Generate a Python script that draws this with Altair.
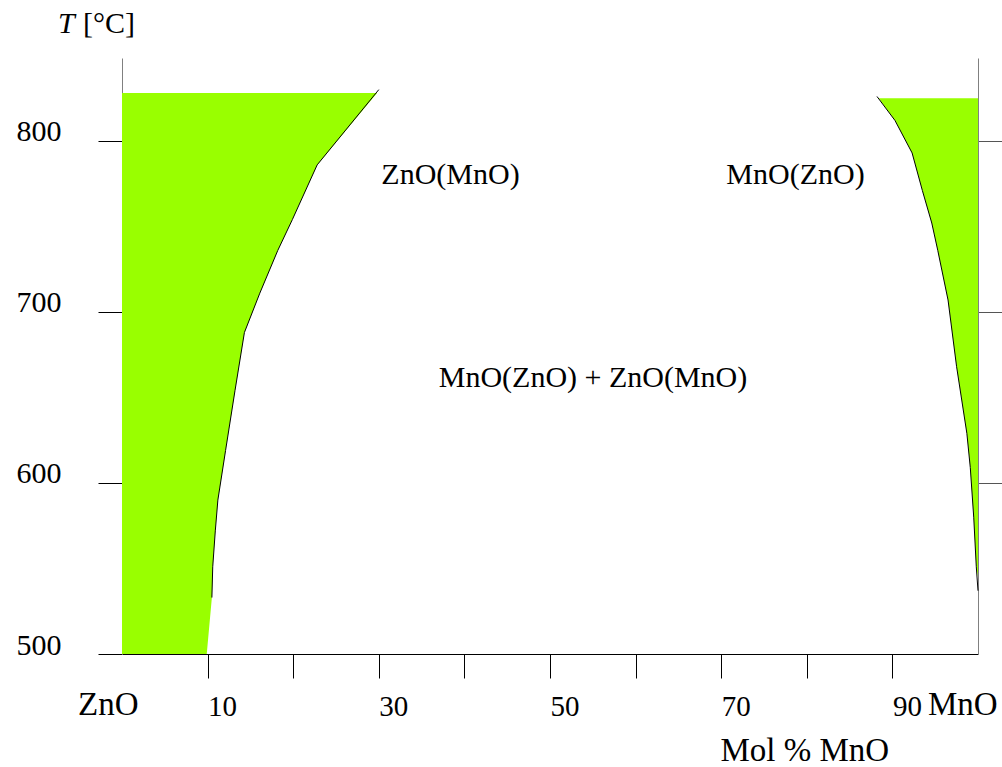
import altair as alt
import pandas as pd

FONT = "Liberation Serif"
FS = 30
GREEN = "#99ff00"

# ZnO-rich solid solution boundary (mol % MnO vs temperature)
zno_line_T = [533, 551, 572, 590, 619, 654, 688, 711, 736, 754, 786, 830]
zno_line_x = [10.5, 10.6, 10.9, 11.2, 12.1, 13.2, 14.3, 16.1, 18.2, 19.9, 22.8, 30.0]
zno_fill_T = [500, 533, 551, 572, 590, 619, 654, 688, 711, 736, 754, 786, 828]
zno_fill_x = [9.9, 10.5, 10.6, 10.9, 11.2, 12.1, 13.2, 14.3, 16.1, 18.2, 19.9, 22.8, 29.8]

# MnO-rich solid solution boundary
mno_line_T = [826, 812, 793, 771, 752, 736, 707, 668, 629, 609, 580, 551, 537]
mno_line_x = [88.2, 90.3, 92.3, 93.5, 94.6, 95.3, 96.5, 97.5, 98.7, 99.1, 99.5, 99.8, 100.0]
mno_fill_T = [825, 812, 793, 771, 752, 736, 707, 668, 629, 609, 580, 551, 545]
mno_fill_x = [88.4, 90.3, 92.3, 93.5, 94.6, 95.3, 96.5, 97.5, 98.7, 99.1, 99.5, 99.8, 100.0]

# phase-field labels
field_labels = ["ZnO(MnO)", "MnO(ZnO)", "MnO(ZnO) + ZnO(MnO)"]
field_x = [30.3, 70.6, 37.0]
field_T = [775, 775, 656]

x_ticks = [10, 20, 30, 40, 50, 60, 70, 80, 90]
y_ticks = [500, 600, 700, 800]
y_ticks_right = [600, 700, 800]

x_scale = alt.Scale(domain=[0, 100], nice=False, zero=False)
y_scale = alt.Scale(domain=[500, 848.5], nice=False, zero=False)

zno_fill = pd.DataFrame({"x": zno_fill_x, "T": zno_fill_T, "x0": 0.0})
zno_line = pd.DataFrame({"x": zno_line_x, "T": zno_line_T})
mno_fill = pd.DataFrame({"x": mno_fill_x, "T": mno_fill_T, "x1": 100.0})
mno_line = pd.DataFrame({"x": mno_line_x, "T": mno_line_T})
labels_df = pd.DataFrame({"label": field_labels, "x": field_x, "T": field_T})

x_axis = alt.Axis(
    values=x_ticks,
    tickSize=24, tickColor="black", tickWidth=1,
    domainColor="black", domainWidth=1,
    labelFont=FONT, labelFontSize=29, labelColor="black",
    labelAlign="left", labelBaseline="alphabetic", labelPadding=37,
    labelFlush=False, labelOverlap=False, labelBound=False,
    labelExpr="datum.value % 20 == 10 ? datum.label : ''",
    grid=False,
    title="Mol % MnO",
    titleFont=FONT, titleFontSize=33, titleFontWeight="normal", titleColor="black",
    titleAlign="left", titleBaseline="alphabetic", titleX=598, titleY=106,
)
y_axis = alt.Axis(
    values=y_ticks,
    tickSize=24, tickColor="black", tickWidth=1,
    domainColor="#808080", domainWidth=1,
    labelFont=FONT, labelFontSize=FS, labelColor="black",
    labelAlign="right", labelBaseline="alphabetic", labelPadding=37,
    labelFlush=False, labelOverlap=False,
    grid=False, title=None,
)

X = alt.X("x:Q", scale=x_scale, axis=x_axis)
Y = alt.Y("T:Q", scale=y_scale, axis=y_axis)

zno_area = alt.Chart(zno_fill).mark_area(
    orient="horizontal", fill=GREEN, fillOpacity=1, stroke=None
).encode(y=Y, x=X, x2=alt.X2("x0"))
mno_area = alt.Chart(mno_fill).mark_area(
    orient="horizontal", fill=GREEN, fillOpacity=1, stroke=None
).encode(y=Y, x=X, x2=alt.X2("x1"))
zno_curve = alt.Chart(zno_line).mark_line(color="black", strokeWidth=1).encode(
    x=X, y=Y, order=alt.Order("T:Q")
)
mno_curve = alt.Chart(mno_line).mark_line(color="black", strokeWidth=1).encode(
    x=X, y=Y, order=alt.Order("T:Q")
)
field_text = alt.Chart(labels_df).mark_text(
    font=FONT, fontSize=FS, color="black", align="left", baseline="alphabetic"
).encode(x=X, y=Y, text="label:N")

# end-member names under the composition axis and the temperature caption
zno_end = alt.Chart(pd.DataFrame({"t": ["ZnO"]})).mark_text(
    font=FONT, fontSize=33, color="black", align="left", baseline="alphabetic"
).encode(x=alt.value(-44), y=alt.value(657), text="t:N")
mno_end = alt.Chart(pd.DataFrame({"t": ["MnO"]})).mark_text(
    font=FONT, fontSize=33, color="black", align="left", baseline="alphabetic"
).encode(x=alt.value(806), y=alt.value(657), text="t:N")
t_symbol = alt.Chart(pd.DataFrame({"t": ["T"]})).mark_text(
    font=FONT, fontSize=FS, fontStyle="italic", color="black", align="left", baseline="alphabetic"
).encode(x=alt.value(-64), y=alt.value(-25), text="t:N")
t_unit = alt.Chart(pd.DataFrame({"t": ["[°C]"]})).mark_text(
    font=FONT, fontSize=FS, color="black", align="left", baseline="alphabetic"
).encode(x=alt.value(-39), y=alt.value(-25), text="t:N")

main = alt.layer(zno_area, mno_area, zno_curve, mno_curve, field_text,
                 zno_end, mno_end, t_symbol, t_unit)

# right-hand temperature axis (ticks only)
right_axis = alt.Chart(pd.DataFrame({"T": [600]})).mark_point(opacity=0).encode(
    y=alt.Y("T:Q", scale=y_scale, axis=alt.Axis(
        orient="right", values=y_ticks_right, labels=False, tickSize=24,
        tickColor="#555555", domainColor="#808080", grid=False, title=None)),
)

chart = alt.layer(main, right_axis).resolve_scale(y="independent").properties(
    width=856, height=596,
    background="white",
    autosize=alt.AutoSizeParams(type="none"),
    padding={"left": 122, "top": 58, "right": 24, "bottom": 113},
).configure_view(stroke=None)

chart.save("out.html", embed_options={"renderer": "svg", "actions": False})
